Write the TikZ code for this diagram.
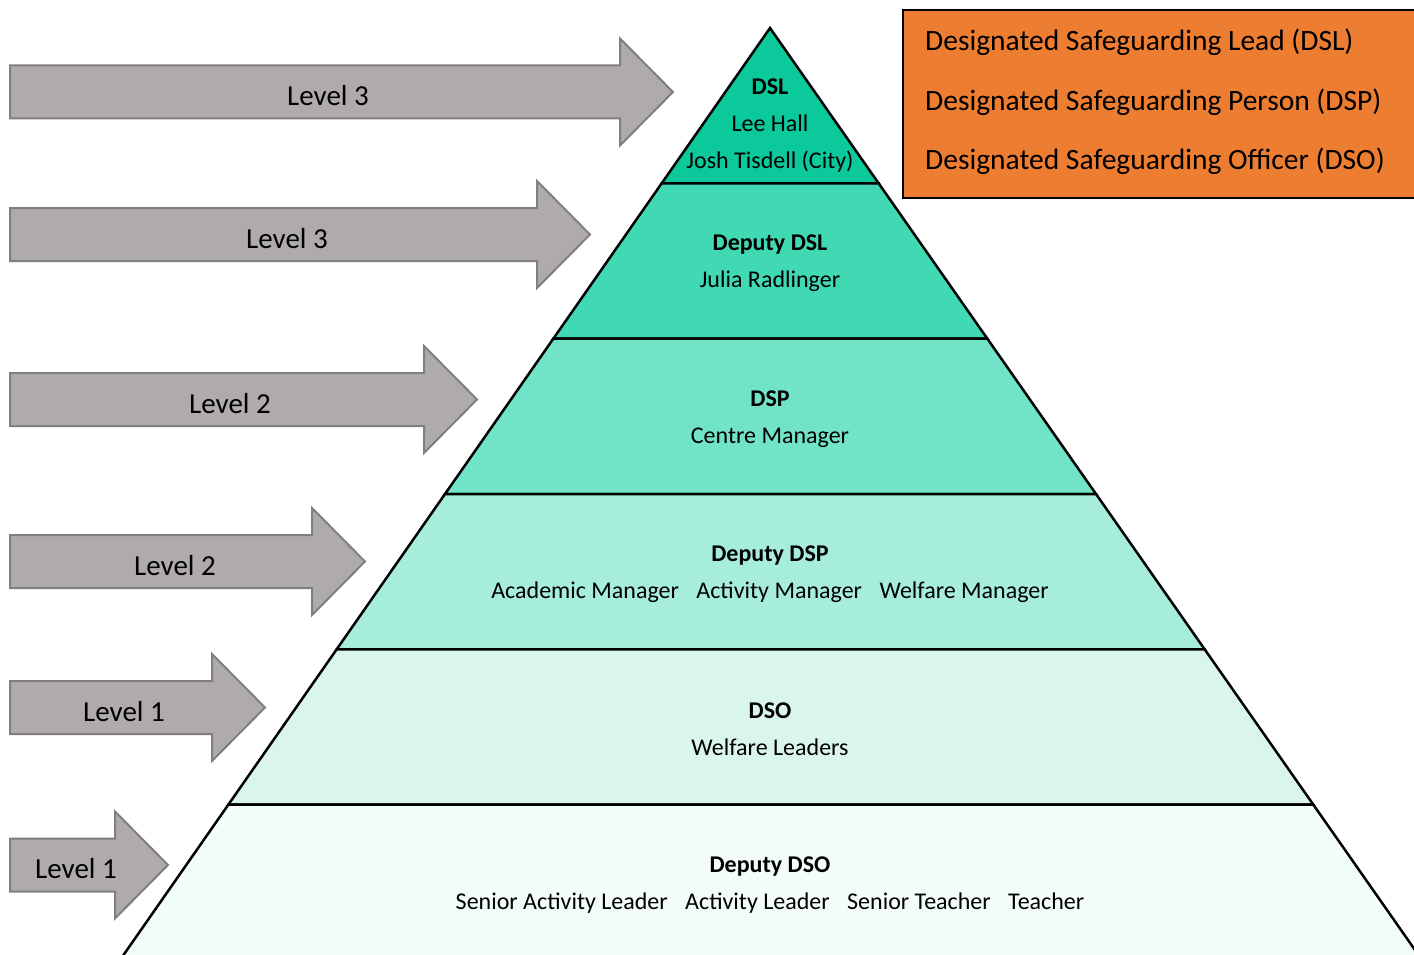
\documentclass[tikz,border=0pt]{standalone}
\usepackage{fontspec}
\setmainfont{Carlito}
\usetikzlibrary{calc}
\definecolor{arrowfill}{HTML}{AFABAB}
\definecolor{arrowline}{HTML}{7F7F7F}
\definecolor{bandA}{HTML}{0BC99B}
\definecolor{bandB}{HTML}{40D9B3}
\definecolor{bandC}{HTML}{71E3C7}
\definecolor{bandD}{HTML}{A6EDDB}
\definecolor{bandE}{HTML}{D9F5EC}
\definecolor{bandF}{HTML}{F2FCF9}
\definecolor{keyfill}{HTML}{ED7D31}
\tikzset{
  levelarrow/.style={fill=arrowfill, draw=arrowline, line width=2pt, line join=miter},
  levellabel/.style={font=\fontsize{29}{34}\selectfont, inner sep=0pt},
  band/.style={draw=black, line width=2.5pt, line join=miter},
  bandtext/.style={font=\fontsize{24}{37}\selectfont, align=center, inner sep=0pt},
  keytext/.style={font=\fontsize{29.5}{34}\selectfont, anchor=west, inner sep=0pt},
}
\begin{document}
\begin{tikzpicture}[x=1pt,y=-1pt]
\useasboundingbox (0,0) rectangle (1414,955);
\begin{scope}
\clip (0,0) rectangle (1414,955);

% pyramid corners
\coordinate (apex) at (770,28);
\coordinate (bl) at (120,960);
\coordinate (br) at (1422,960);

% six bands, top to bottom
\foreach \a/\b/\col in {0/1/bandA, 1/2/bandB, 2/3/bandC, 3/4/bandD, 4/5/bandE, 5/6/bandF}{
  \filldraw[band, fill=\col]
    ($(apex)!{\a/6}!(bl)$) -- ($(apex)!{\b/6}!(bl)$) --
    ($(apex)!{\b/6}!(br)$) -- ($(apex)!{\a/6}!(br)$) -- cycle;
}

% key box
\filldraw[fill=keyfill, draw=black, line width=2pt] (903,10) rectangle (1430,198);
\end{scope}

\node[keytext] (k1) at (925,42) {Designated Safeguarding Lead (DSL)};
\node[keytext] (k2) at (925,102) {Designated Safeguarding Person (DSP)};
\node[keytext] (k3) at (925,161) {Designated Safeguarding Officer (DSO)};

% band labels
\node[bandtext] (t1) at (770,126) {\textbf{DSL}\\Lee Hall\\Josh Tisdell (City)};
\node[bandtext] (t2) at (770,263) {\textbf{Deputy DSL}\\Julia Radlinger};
\node[bandtext] (t3) at (770,419) {\textbf{DSP}\\Centre Manager};
\node[bandtext] (t4) at (770,574) {\textbf{Deputy DSP}\\Academic Manager\hspace{12pt} Activity Manager\hspace{12pt} Welfare Manager};
\node[bandtext] (t5) at (770,729) {\textbf{DSO}\\Welfare Leaders};
\node[bandtext] (t6) at (770,885) {\textbf{Deputy DSO}\\Senior Activity Leader\hspace{12pt} Activity Leader\hspace{12pt} Senior Teacher\hspace{12pt} Teacher};

% level arrows: body end x / centre y / label / label x
\foreach \r/\c/\lab/\tx [count=\i] in {620/92/Level 3/328, 537/234.5/Level 3/287, 424/399.5/Level 2/230,
                             312/561.5/Level 2/175, 212/707.5/Level 1/124, 115/865/Level 1/76}{
  \filldraw[levelarrow] (10,\c-26.5) -- (\r,\c-26.5) -- (\r,\c-53.5) -- (\r+53,\c)
     -- (\r,\c+53.5) -- (\r,\c+26.5) -- (10,\c+26.5) -- cycle;
  \node[levellabel] (lv\i) at (\tx,\c+4) {\lab};
}
\end{tikzpicture}
\end{document}
